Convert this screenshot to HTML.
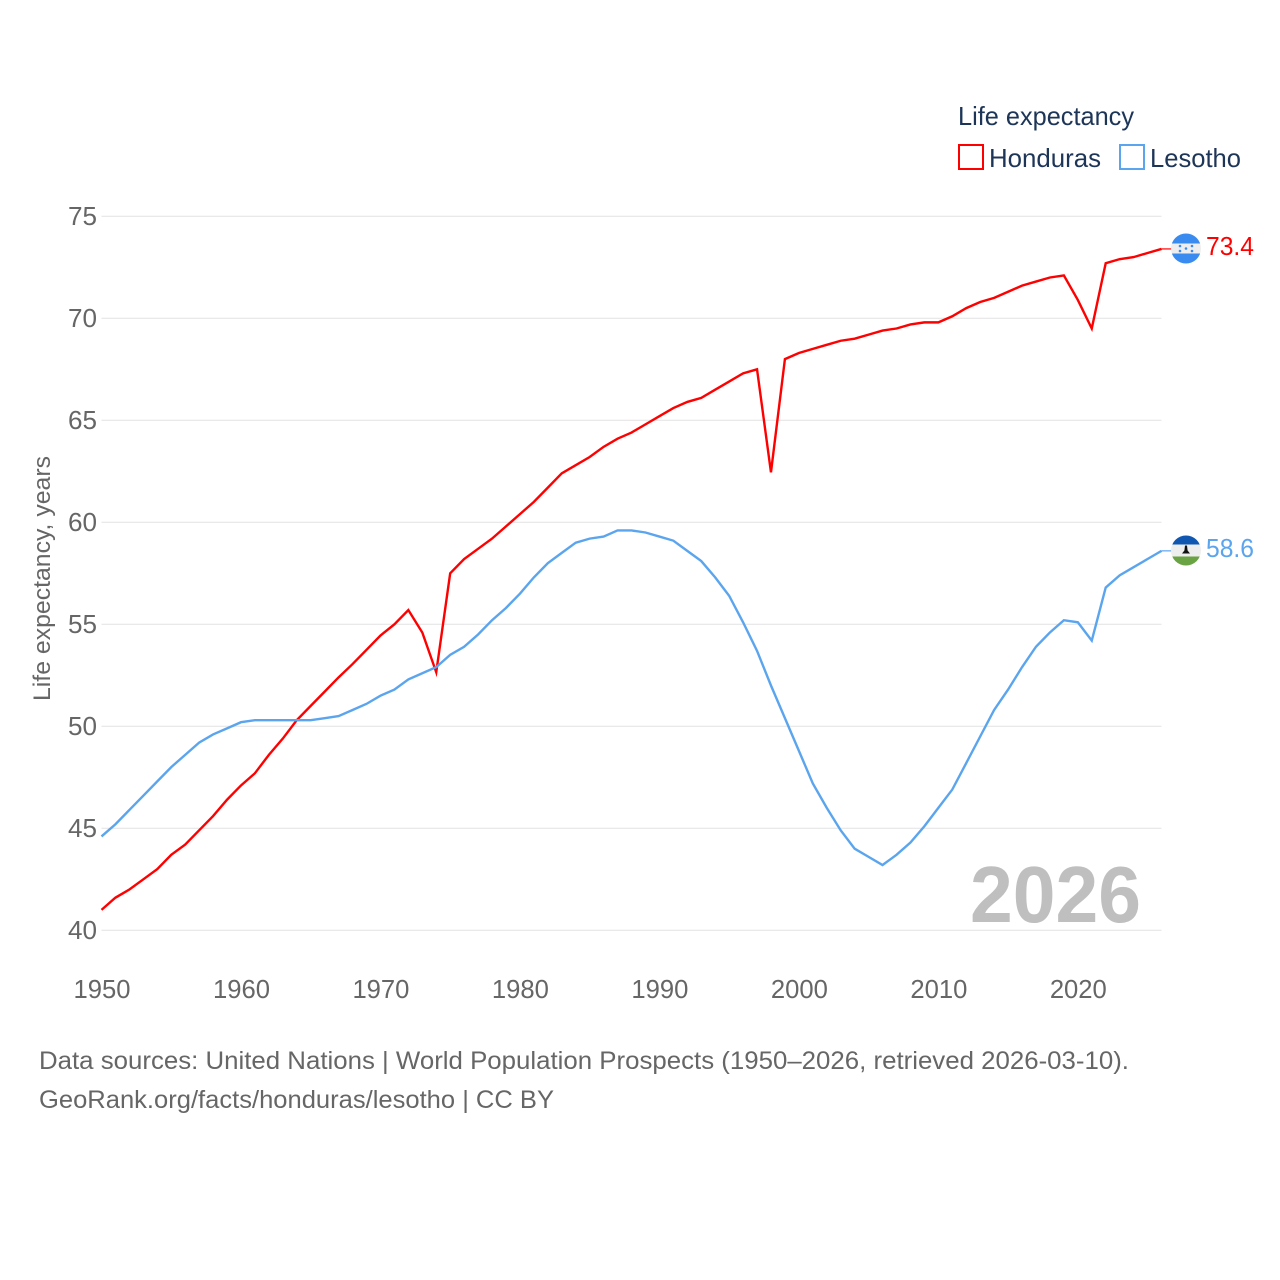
<!DOCTYPE html>
<html lang="en">
<head>
<meta charset="utf-8">
<title>Life expectancy: Honduras and Lesotho</title>
<style>
  html, body { margin: 0; padding: 0; background: #fff; }
  svg { display: block; font-family: "Liberation Sans", sans-serif; }
</style>
</head>
<body>
<svg id="chart" xmlns="http://www.w3.org/2000/svg" width="1280" height="1280" viewBox="0 0 1280 1280">
  <rect width="1280" height="1280" fill="#fff"/>
  <defs>
    <clipPath id="flag-clip"><circle cx="0" cy="0" r="15"/></clipPath>
  </defs>
  <g id="grid"></g>
  <g id="y-ticks"></g>
  <g id="x-ticks"></g>
  <text transform="translate(50,701) rotate(-90)" font-size="24.5" fill="#666" textLength="245" lengthAdjust="spacingAndGlyphs">Life expectancy, years</text>
  <text x="970" y="922" font-size="80" font-weight="bold" fill="#bfbfbf" textLength="171" lengthAdjust="spacingAndGlyphs">2026</text>
  <g id="series"></g>
  <g>
    <text x="958" y="125" font-size="26" fill="#1d3557" textLength="176" lengthAdjust="spacingAndGlyphs">Life expectancy</text>
    <rect x="959" y="145" width="24" height="24" fill="none" stroke="#ff0000" stroke-width="2"/>
    <text x="989" y="167" font-size="26" fill="#1d3557" textLength="112" lengthAdjust="spacingAndGlyphs">Honduras</text>
    <rect x="1120" y="145" width="24" height="24" fill="none" stroke="#5ba5ee" stroke-width="2"/>
    <text x="1150" y="167" font-size="26" fill="#1d3557" textLength="91" lengthAdjust="spacingAndGlyphs">Lesotho</text>
  </g>
  <g transform="translate(1186,248.5)">
    <g clip-path="url(#flag-clip)">
      <rect x="-15" y="-15" width="30" height="30" fill="#eeeeee"/>
      <rect x="-15" y="-15" width="30" height="10" fill="#3a8bef"/>
      <rect x="-15" y="5" width="30" height="10" fill="#3a8bef"/>
      <g fill="#3a8bef">
        <circle cx="-6" cy="-2.5" r="1.3"/><circle cx="6" cy="-2.5" r="1.3"/>
        <circle cx="0" cy="0" r="1.3"/>
        <circle cx="-6" cy="2.5" r="1.3"/><circle cx="6" cy="2.5" r="1.3"/>
      </g>
    </g>
  </g>
  <g transform="translate(1186,550.5)">
    <g clip-path="url(#flag-clip)">
      <rect x="-15" y="-15" width="30" height="30" fill="#eeeeee"/>
      <rect x="-15" y="-15" width="30" height="9" fill="#0f57b0"/>
      <rect x="-15" y="6" width="30" height="9" fill="#6aa343"/>
      <path d="M-1 -5 H1 L1.6 0 L4 3 H-4 L-1.6 0 Z" fill="#111"/>
    </g>
  </g>
  <text x="39" y="1069" font-size="25" fill="#666" textLength="1090" lengthAdjust="spacingAndGlyphs">Data sources: United Nations | World Population Prospects (1950–2026, retrieved 2026-03-10).</text>
  <text x="39" y="1108" font-size="25" fill="#666" textLength="515" lengthAdjust="spacingAndGlyphs">GeoRank.org/facts/honduras/lesotho | CC BY</text>
</svg>
<script>
const firstYear = 1950;
const lastYear = 2026;
const yTickValues = [40, 45, 50, 55, 60, 65, 70, 75];
const xTickValues = [1950, 1960, 1970, 1980, 1990, 2000, 2010, 2020];
const hondurasValues = [
  41.0, 41.6, 42.0, 42.5, 43.0, 43.7, 44.2, 44.9, 45.6, 46.4,
  47.1, 47.7, 48.6, 49.4, 50.3, 51.0, 51.7, 52.4, 53.05, 53.75,
  54.45, 55.0, 55.7, 54.6, 52.65, 57.5, 58.2, 58.7, 59.2, 59.8,
  60.4, 61.0, 61.7, 62.4, 62.8, 63.2, 63.7, 64.1, 64.4, 64.8,
  65.2, 65.6, 65.9, 66.1, 66.5, 66.9, 67.3, 67.5, 62.45, 68.0,
  68.3, 68.5, 68.7, 68.9, 69.0, 69.2, 69.4, 69.5, 69.7, 69.8,
  69.8, 70.1, 70.5, 70.8, 71.0, 71.3, 71.6, 71.8, 72.0, 72.1,
  70.9, 69.5, 72.7, 72.9, 73.0, 73.2, 73.4
];
const lesothoValues = [
  44.6, 45.2, 45.9, 46.6, 47.3, 48.0, 48.6, 49.2, 49.6, 49.9,
  50.2, 50.3, 50.3, 50.3, 50.3, 50.3, 50.4, 50.5, 50.8, 51.1,
  51.5, 51.8, 52.3, 52.6, 52.9, 53.5, 53.9, 54.5, 55.2, 55.8,
  56.5, 57.3, 58.0, 58.5, 59.0, 59.2, 59.3, 59.6, 59.6, 59.5,
  59.3, 59.1, 58.6, 58.1, 57.3, 56.4, 55.1, 53.7, 52.0, 50.4,
  48.8, 47.2, 46.0, 44.9, 44.0, 43.6, 43.2, 43.7, 44.3, 45.1,
  46.0, 46.9, 48.2, 49.5, 50.8, 51.8, 52.9, 53.9, 54.6, 55.2,
  55.1, 54.2, 56.8, 57.4, 57.8, 58.2, 58.6
];

const SVG_NS = 'http://www.w3.org/2000/svg';
const xLeft = 101.5, xRight = 1161.5, yTop = 216.3, yBottom = 930.3, yMax = 75, yMin = 40;
function xScale(year) {
  return xLeft + (year - firstYear) * (xRight - xLeft) / (lastYear - firstYear);
}
function yScale(value) {
  return yBottom - (value - yMin) * (yBottom - yTop) / (yMax - yMin);
}
function make(tag, attrs, text) {
  const el = document.createElementNS(SVG_NS, tag);
  for (const key in attrs) el.setAttribute(key, attrs[key]);
  if (text !== undefined) el.textContent = text;
  return el;
}

const gridGroup = document.getElementById('grid');
const yTickGroup = document.getElementById('y-ticks');
const xTickGroup = document.getElementById('x-ticks');
const seriesGroup = document.getElementById('series');

yTickValues.forEach(function (value) {
  const y = yScale(value);
  const line = make('line', { x1: xLeft, x2: xRight, y1: y, y2: y, stroke: '#e6e6e6', 'stroke-width': 1.2 });
  
  
  gridGroup.appendChild(line);
  const label = make('text', { x: 97, y: y + 8.7, 'text-anchor': 'end', 'font-size': 26, fill: '#666',
    textLength: 29, lengthAdjust: 'spacingAndGlyphs' }, String(value));
  
  
  yTickGroup.appendChild(label);
});

xTickValues.forEach(function (year) {
  const label = make('text', { x: xScale(year) + 0.5, y: 998, 'text-anchor': 'middle', 'font-size': 26, fill: '#666',
    textLength: 57, lengthAdjust: 'spacingAndGlyphs' }, String(year));
  
  
  xTickGroup.appendChild(label);
});

function drawSeries(name, values, color) {
  const points = values.map(function (value, i) {
    return xScale(firstYear + i).toFixed(2) + ',' + yScale(value).toFixed(2);
  }).join(' ');
  const line = make('polyline', { points: points, fill: 'none', stroke: color, 'stroke-width': 2.4, 'stroke-linejoin': 'miter', 'stroke-miterlimit': 6 });
  
  
  seriesGroup.appendChild(line);

  const last = values[values.length - 1];
  const endY = yScale(last);
  const connector = make('line', { x1: xRight, x2: 1172, y1: endY, y2: endY, stroke: color, 'stroke-width': 1.2 });
  
  
  seriesGroup.appendChild(connector);

  const label = make('text', { x: 1206, y: endY + 6, 'font-size': 26, fill: color,
    textLength: 48, lengthAdjust: 'spacingAndGlyphs' }, last.toFixed(1));
  
  
  seriesGroup.appendChild(label);
}

drawSeries('honduras', hondurasValues, '#ff0000');
drawSeries('lesotho', lesothoValues, '#5ba5ee');
</script>
</body>
</html>
